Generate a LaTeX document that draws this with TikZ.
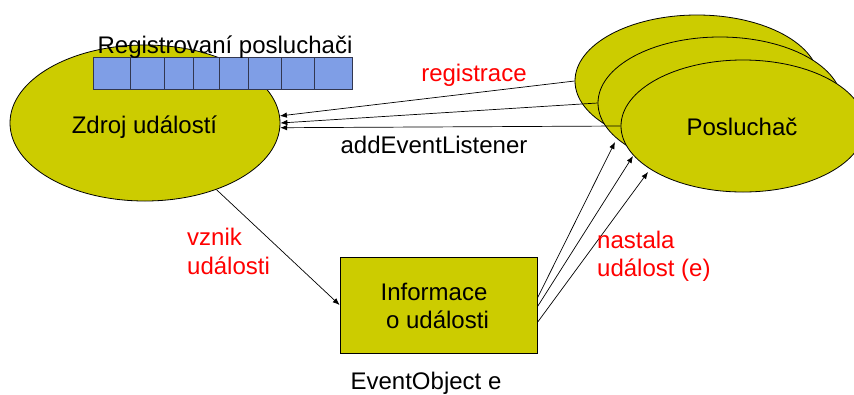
\documentclass[tikz,border=0pt]{standalone}
\usepackage{fontspec}
\setmainfont{Liberation Sans}
\usetikzlibrary{shapes.geometric,arrows.meta}

\definecolor{olive}{RGB}{204,204,0}
\definecolor{cellblue}{RGB}{127,158,230}
\definecolor{celledge}{RGB}{50,55,80}

\tikzset{
  blob/.style={ellipse, draw=black, fill=olive, line width=0.8pt, inner sep=0pt},
  infobox/.style={rectangle, draw=black, fill=olive, line width=0.8pt,
    minimum width=197pt, minimum height=96pt, inner sep=0pt},
  cell/.style={draw=celledge, fill=cellblue, line width=0.8pt},
  arr/.style={draw=black, line width=0.7pt, -{Latex[length=7pt,width=5.5pt]}},
  txt/.style={font=\fontsize{24}{28}\selectfont, inner sep=0pt, anchor=base},
  redtxt/.style={txt, text=red},
}

\begin{document}
\begin{tikzpicture}[x=1pt, y=-1pt]
\useasboundingbox (0,0) rectangle (854,394);
\clip (0,0) rectangle (854,394);

% event source
\node[blob, minimum width=270pt, minimum height=156pt] (src) at (145,123) {};
\node[txt] (srclabel) at (144.5,133) {Zdroj událostí};

% list of registered listeners
\foreach \a/\b [count=\i] in {93/130,130/164,164/193,193/219,219/248,248/281,281/314,314/352}
  \path[cell] (\a,57) rectangle (\b,89);
\node[txt] (reglabel) at (225,53) {Registrovaní posluchači};

% stacked listeners
\node[blob, minimum width=244pt, minimum height=132pt] (back) at (697,81) {};
\node[blob, minimum width=244pt, minimum height=132pt] (mid) at (720,103) {};
\node[blob, minimum width=244pt, minimum height=132pt] (front) at (743,126) {};
\node[txt] (lislabel) at (742,135) {Posluchač};

% event object
\node[infobox] (info) at (438.5,305) {};
\node[txt] (info1) at (434,300) {Informace};
\node[txt] (info2) at (437.5,328) {o události};
\node[txt] (evobj) at (426,389) {EventObject e};

% registration calls
\draw[arr] (back.west) -- (src.3.4);
\draw[arr] (mid.west) -- (src.0.8);
\draw[arr] (front.west) -- (src.-2);
\node[redtxt] (reg) at (474,81) {registrace};
\node[txt] (addl) at (434,153) {addEventListener};

% event creation
\draw[arr] (src.-43) -- (info.west);
\node[redtxt, anchor=base west] (vz1) at (187,245) {vznik};
\node[redtxt, anchor=base west] (vz2) at (187,274) {události};

% notification of listeners
\coordinate (n1) at (615,142);
\coordinate (n2) at (633,156);
\coordinate (n3) at (648,172);
\draw[arr] (info.4.6) -- (n1);
\draw[arr] (info.-1.7) -- (n2);
\draw[arr] (info.-10.4) -- (n3);
\node[redtxt, anchor=base west] (ns1) at (597,248) {nastala};
\node[redtxt, anchor=base west] (ns2) at (597,276) {událost (e)};
\end{tikzpicture}
\end{document}
